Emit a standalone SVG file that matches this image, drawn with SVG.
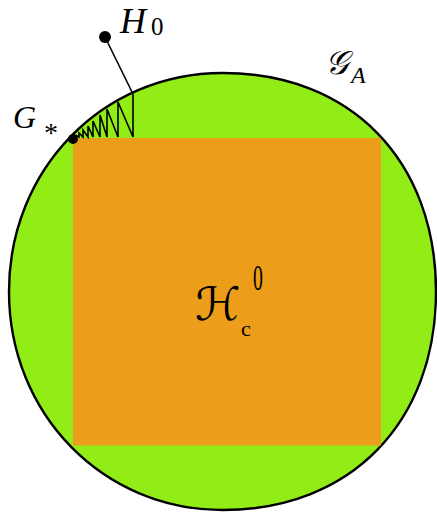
<svg xmlns="http://www.w3.org/2000/svg" width="437" height="513" viewBox="0 0 437 513">
<style>
.lbl{font-family:"Liberation Serif","DejaVu Serif",serif;fill:#000}
.it{font-style:italic}
.scr{font-family:"DejaVu Serif","DejaVu Sans","Noto Sans",serif;font-style:italic;fill:#000}
.ln{fill:none;stroke:#000;stroke-width:1.6;stroke-linejoin:miter}
</style>
<rect width="437" height="513" fill="#fff"/>
<g id="region-GA">
<path d="M222.5,73 C350.6,73 436,160.4 436,291.5 C436,422.6 350.6,510 222.5,510 C102.9,510 9,413.9 9,291.5 C9,169.1 102.9,73 222.5,73 Z" fill="#92EC16" stroke="#000" stroke-width="2.4"/>
</g>
<g id="region-Hc0">
<rect x="73" y="138" width="308" height="307.5" fill="#EC9E1A"/>
</g>
<g id="connectors">
<path class="ln" d="M105,37 L133,94"/>
<path class="ln" d="M133,94 L133,137 L118,102 L118,137 L107,109 L107,137 L100,115 L100,137 L93,121 L93,137 L88,126 L88,137 L83,130 L83,137 L79,133 L79,137 L76,135.5"/>
</g>
<g id="node-H0">
<circle cx="105" cy="37" r="6" fill="#000"/>
<text class="lbl it" x="120" y="33" font-size="36">H</text>
<text class="lbl" x="151" y="35" font-size="25">0</text>
</g>
<g id="node-Gstar">
<circle cx="73" cy="139" r="5" fill="#000"/>
<text class="lbl it" x="13" y="128" font-size="32">G</text>
<text class="lbl" x="44" y="142" font-size="28">*</text>
</g>
<g id="label-GA">
<text class="scr" x="325" y="74" font-size="33">𝒢</text>
<text class="lbl it" x="351" y="83" font-size="24">A</text>
</g>
<g id="label-Hc0">
<text class="scr" x="195" y="320" font-size="46">ℋ</text>
<text class="lbl" x="241" y="336" font-size="22">c</text>
<text class="lbl" x="0" y="0" font-size="36" transform="translate(253,290) scale(0.55,1)">0</text>
</g>
</svg>
